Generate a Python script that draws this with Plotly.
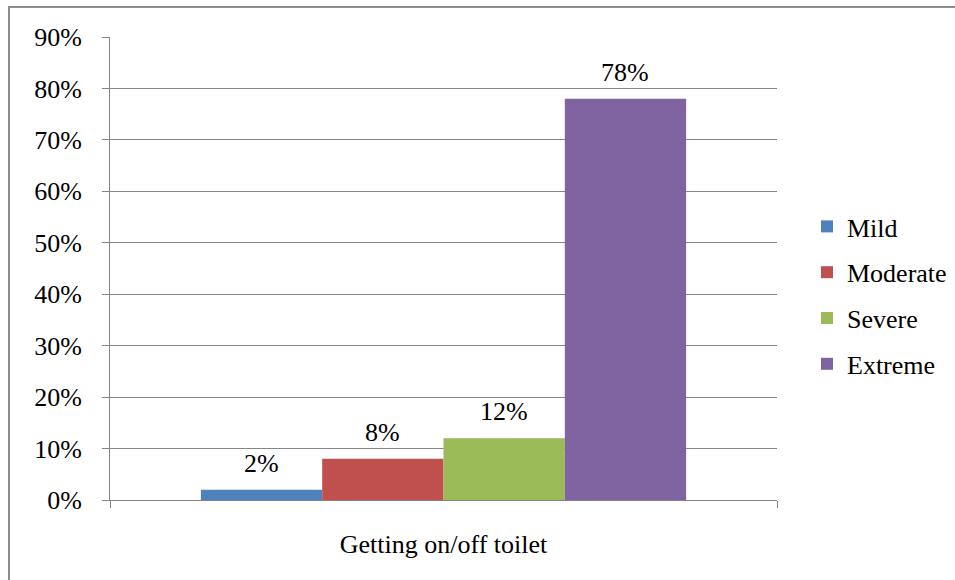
import plotly.graph_objects as go

category = ["Getting on/off toilet"]
series_names = ["Mild", "Moderate", "Severe", "Extreme"]
series_values = [0.02, 0.08, 0.12, 0.78]
series_colors = ["#4F81BD", "#C0504D", "#9BBB59", "#8064A2"]
tick_values = [i / 10 for i in range(10)]
tick_labels = [f"{i * 10}%" for i in range(10)]

FONT = "Liberation Serif"
FS = 26
AXIS_GRAY = "#868686"
BARGAP = 0.2725

L, R, T, B = 110, 178, 37, 80
W, H = 955, 580
pw, ph = W - L - R, H - T - B

fig = go.Figure()
for name, val, col in zip(series_names, series_values, series_colors):
    fig.add_trace(go.Bar(
        x=category, y=[val], name=name,
        marker=dict(color=col, line=dict(width=0)),
        legendgroup=name,
    ))

# value labels sit a little higher above the bars than plotly's default padding
bar_px = pw * (1 - BARGAP) / len(series_values)
annotations = []
for i, val in enumerate(series_values):
    annotations.append(dict(
        x=category[0], y=val, xref="x", yref="y",
        text=f"{round(val * 100)}%", showarrow=False,
        xanchor="center", yanchor="bottom",
        xshift=(i - (len(series_values) - 1) / 2) * bar_px, yshift=10,
        font=dict(family=FONT, size=FS, color="black"),
    ))

fig.update_layout(
    width=W, height=H,
    margin=dict(l=L, r=R, t=T, b=B, autoexpand=False),
    paper_bgcolor="white", plot_bgcolor="white",
    barmode="group", bargap=BARGAP, bargroupgap=0,
    font=dict(family=FONT, size=FS, color="black"),
    legend=dict(
        x=(807 - L) / pw, y=(500 - 203) / ph, xanchor="left", yanchor="top",
        font=dict(family=FONT, size=FS, color="black"),
        tracegroupgap=9, itemwidth=30, bgcolor="rgba(0,0,0,0)",
    ),
    xaxis=dict(
        showline=True, linecolor=AXIS_GRAY, linewidth=1,
        ticks="outside", tickson="boundaries", ticklen=7, tickcolor=AXIS_GRAY,
        tickfont=dict(family=FONT, size=FS, color="black"),
        showgrid=False, ticklabelstandoff=21,
    ),
    yaxis=dict(
        range=[0, 0.9], tickvals=tick_values, ticktext=tick_labels,
        showline=True, linecolor=AXIS_GRAY, linewidth=1,
        ticks="outside", ticklen=7, tickcolor=AXIS_GRAY,
        showgrid=True, gridcolor=AXIS_GRAY, gridwidth=1,
        tickfont=dict(family=FONT, size=FS, color="black"),
        ticklabelstandoff=15, zeroline=False,
    ),
    annotations=annotations,
    shapes=[dict(
        type="rect", xref="paper", yref="paper",
        x0=(9 - L) / pw, x1=1.6, y0=-0.5, y1=(H - B - 7) / ph,
        line=dict(color="#8C8C8C", width=2), fillcolor="rgba(0,0,0,0)",
        layer="below",
    )],
)

fig.write_html("out.html")
